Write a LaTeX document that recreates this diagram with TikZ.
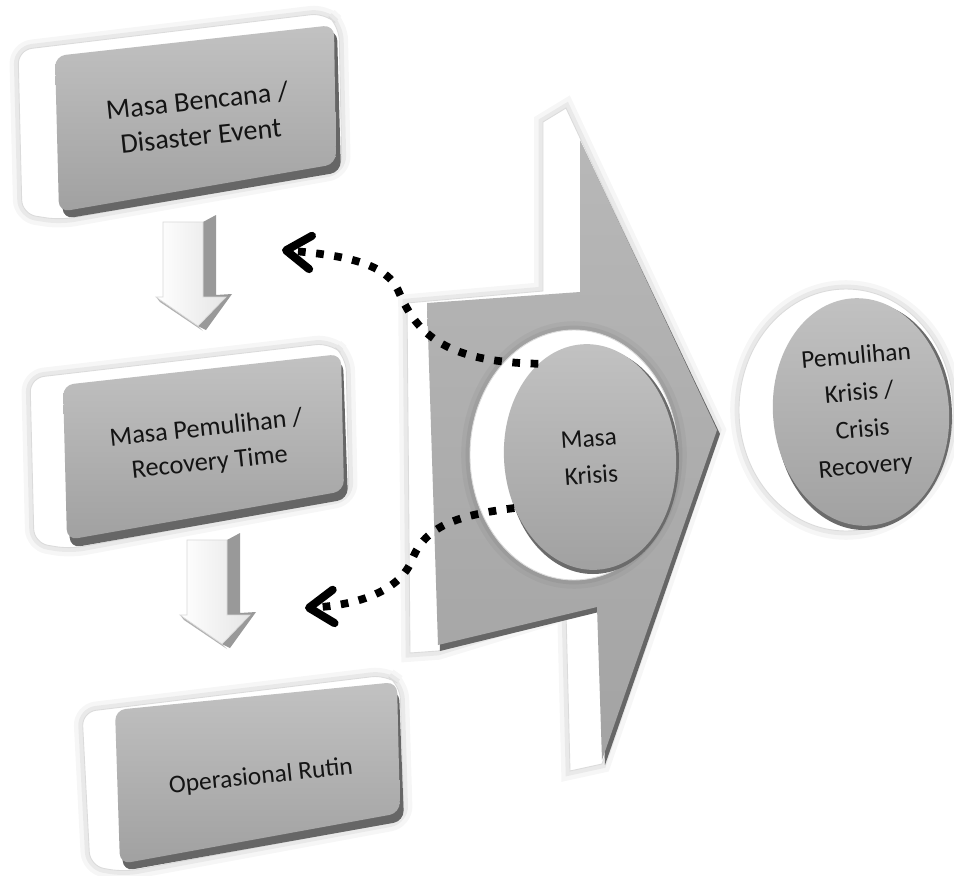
\documentclass[tikz,border=0pt]{standalone}
\usepackage{fontspec}
\setmainfont{Carlito}
\usetikzlibrary{shapes.geometric,arrows.meta}
\begin{document}
\begin{tikzpicture}[x=0.02cm,y=-0.02cm,
  rim/.style={fill=white, draw=black!14, line width=0.5pt,
    preaction={draw=black, draw opacity=0.035, line width=10pt},
    preaction={draw=black, draw opacity=0.05, line width=5pt}},
  bevel/.style={fill=black!60},
  face/.style={top color=black!24, bottom color=black!37},
  boxtext/.style={align=center, text=black!92, inner sep=0pt},
  disctext/.style={font=\fontsize{14.5}{21}\selectfont, align=center, text=black!92},
  dots/.style={line width=4.4pt, dash pattern=on 4.4pt off 6pt,
    -{Straight Barb[length=14pt,width=19pt,line width=4.6pt,round]}},
  downarrow/.pic={
    \path[fill=black!40] (40,7) -- (53,0) -- (53,80) -- (69,79) -- (43,115) -- (35,111) -- (63,82) -- (40,82) -- cycle;
    \path[fill=black!30] (-7,82) -- (35,111) -- (40,116) -- (-3,87) -- cycle;
    \path[left color=white, right color=black!10, draw=black!15, line width=0.4pt]
      (0,7) -- (40,7) -- (40,82) -- (63,82) -- (35,111) -- (-7,82) -- (0,82) -- cycle;
  }]
\useasboundingbox (0,0) rectangle (954,876);
\fill[white] (0,0) rectangle (954,876);

% --- big block arrow pointing right ---
\path[rim] (407,303) -- (543,291) -- (543,122) -- (566,108) -- (717,430) -- (602,764)
  -- (570,771) -- (566,612) -- (438,651) -- (410,653) -- cycle;
\path[bevel] (429,308) -- (582,297) -- (582,145) -- (720,434) -- (605,765) -- (599,612) -- (440,651) -- cycle;
\path[top color=black!28, bottom color=black!36] (427,303) -- (580,292) -- (580,140) -- (717,430)
  -- (602,760) -- (597,607) -- (438,645) -- cycle;

% --- left column of boxes ---
\path[rim, rounded corners=8pt] (18,50) -- (325,13) -- (339,26) -- (342,170) -- (60,220) -- (22,214) -- cycle;
\path[bevel, rounded corners=6pt] (57,62) -- (337,30) -- (341,172) -- (63,219) -- cycle;
\path[face, rounded corners=6pt] (55,56) -- (334,25) -- (336,164) -- (59,212) -- cycle;
\node[boxtext, rotate=6, font=\fontsize{16}{20}\selectfont] (disaster) at (199,118) {Masa Bencana /\\Disaster Event};

\path[rim, rounded corners=8pt] (30,378) -- (330,343) -- (346,357) -- (349,497) -- (70,549) -- (34,543) -- cycle;
\path[bevel, rounded corners=6pt] (65,392) -- (343,360) -- (348,499) -- (70,548) -- cycle;
\path[face, rounded corners=6pt] (63,385) -- (341,354) -- (344,491) -- (67,540) -- cycle;
\node[boxtext, rotate=6, font=\fontsize{15}{19.5}\selectfont] (recoverytime) at (208,446) {Masa Pemulihan /\\Recovery Time};

\path[rim, rounded corners=8pt] (82,712) -- (386,675) -- (400,685) -- (404,820) -- (124,872) -- (90,866) -- cycle;
\path[bevel, rounded corners=6pt] (117,717) -- (399,690) -- (404,821) -- (123,871) -- cycle;
\path[face, rounded corners=6pt] (115,710) -- (397,682) -- (400,813) -- (120,864) -- cycle;
\node[boxtext, rotate=6, font=\fontsize{14.5}{19}\selectfont] (rutin) at (261,777) {Operasional Rutin};

% --- down arrows between the boxes ---
\pic at (163,215) {downarrow};
\pic at (187,533) {downarrow};

% --- discs ---
\path[rim] (574,455) ellipse [x radius=104, y radius=125];
\path[fill=black!58] (593,461) ellipse [x radius=86, y radius=113];
\node[ellipse, face, minimum width=3.44cm, minimum height=4.52cm, inner sep=0pt, rotate=4, disctext]
  (krisis) at (590,457) {Masa\\Krisis};

\path[rim] (846,410) ellipse [x radius=107, y radius=121];
\path[fill=black!58] (864,416) ellipse [x radius=88, y radius=114];
\node[ellipse, face, minimum width=3.52cm, minimum height=4.56cm, inner sep=0pt, rotate=5, disctext]
  (recovery) at (861,412) {Pemulihan\\Krisis /\\Crisis\\Recovery};

% --- dotted feedback arrows ---
\coordinate (upTip) at (282,250);
\coordinate (lowTip) at (305,608);
\draw[dots] (krisis.115) .. controls (440,362) and (415,330) .. (398,290)
  .. controls (385,262) and (340,255) .. (upTip);
\draw[dots] (krisis.210) .. controls (460,515) and (425,525) .. (412,560)
  .. controls (400,590) and (360,605) .. (lowTip);
\end{tikzpicture}
\end{document}
